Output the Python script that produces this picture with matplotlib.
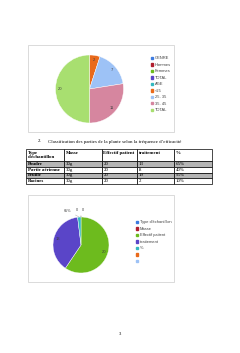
import matplotlib
matplotlib.use('Agg')
import matplotlib.pyplot as plt
from matplotlib.patches import Rectangle, Patch
import numpy as np

W, H = 240, 353

# Excel-like series colours
palette = ['#3d7be0', '#b01e2e', '#6dbb1e', '#5a45c8', '#33b8c0',
           '#e96a1b', '#9dc2f6', '#d6869f', '#a8df70']

# chart 1: age groups
pie1_labels = ['GENRE', 'Hommes', 'Femmes', 'TOTAL', 'AGE',
               '<25', '25- 35', '35- 45', 'TOTAL']
pie1_values = [0, 0, 0, 0, 0, 2, 7, 11, 20]

# table
table_header = ["Type\nd'échantillon", 'Masse\n ', 'Effectif patient\n ',
                'traitement\n ', '%\n ']
table_rows = ['Poudre', 'Partie aérienne', 'Feuille', 'Racines']
masse = ['30g', '30g', '30g', '30g']
effectif = [20, 20, 20, 20]
traitement = [13, 8, 19, 2]
pourcent = ['65%', '40%', '95%', '10%']

# chart 2: first table row plotted as a pie
pie2_labels = ["Type d'échantillon", 'Masse', 'Effectif patient',
               'traitement', '%', '', '']
pie2_values = [0, 0, 20, 13, 0.65]
pie2_texts = ['0', '0', '20', '13', '65%']

fig = plt.figure(figsize=(W / 100, H / 100), dpi=100)
fig.patch.set_facecolor('white')


def px_axes(x0, y0, x1, y1):
    return fig.add_axes([x0 / W, 1 - y1 / H, (x1 - x0) / W, (y1 - y0) / H])


page = px_axes(0, 0, W, H)
page.set_xlim(0, W)
page.set_ylim(H, 0)
page.axis('off')

# chart frames
for y0, y1 in [(45, 132), (195, 282)]:
    page.add_patch(Rectangle((28, y0), 146, y1 - y0, fill=False,
                             edgecolor='#d4d4d4', linewidth=0.6))

serif = 'Liberation Serif'
sans = 'Liberation Sans'


def draw_pie(box, values, colors, texts, min_inside):
    ax = px_axes(*box)
    wedges, _ = ax.pie(values, colors=colors, startangle=90, counterclock=False,
                       wedgeprops=dict(edgecolor='white', linewidth=0.3))
    ax.set_xlim(-1, 1)
    ax.set_ylim(-1, 1)
    angles = []
    for w, v, t in zip(wedges, values, texts):
        ang = np.deg2rad((w.theta1 + w.theta2) / 2)
        if t and v >= min_inside:
            ax.text(0.86 * np.cos(ang), 0.86 * np.sin(ang), t, ha='center',
                    va='center', fontsize=3, color='#404040', family=sans)
        angles.append(ang)
    return ax, wedges, angles


# chart 1
draw_pie((55.5, 55, 123.5, 123), pie1_values, palette,
         [str(v) if v else '' for v in pie1_values], 1)
fig.legend(handles=[Patch(color=c) for c in palette], labels=pie1_labels,
           loc='upper left', bbox_to_anchor=(150.5 / W, 1 - 56.3 / H),
           frameon=False, handlelength=0.5, handleheight=0.5,
           handletextpad=0.5, labelspacing=0.62, borderpad=0, borderaxespad=0,
           labelcolor='#404040', prop={'family': sans, 'size': 2.9})

# heading
page.text(38, 141.5, '2.', fontsize=3.5, family=serif, va='center')
page.text(48, 141.5, "Classification des parties de la plante selon la fréquence d’efficacité",
          fontsize=3.5, family=serif, va='center')

# table
tax = px_axes(26, 149, 212, 184)
tax.axis('off')
cell_text = [table_header] + [[r, m, str(e), str(t), p] for r, m, e, t, p
                              in zip(table_rows, masse, effectif, traitement, pourcent)]
tbl = tax.table(cellText=cell_text, cellLoc='left',
                colWidths=[38, 38, 35, 37, 38], bbox=[0, 0, 1, 1])
tbl.auto_set_font_size(False)
tbl.set_fontsize(3.5)
for (r, c), cell in tbl.get_celld().items():
    cell.set_height(12 if r == 0 else 5.75)
    cell.set_linewidth(0.5)
    cell.set_edgecolor('black')
    cell.set_facecolor('#b5b5b5' if r in (1, 3) else 'white')
    cell.PAD = 0.04
    txt = cell.get_text()
    txt.set_fontfamily(serif)
    if r == 0 or c == 0:
        txt.set_fontweight('bold')

# chart 2
ax2, wedges2, angs2 = draw_pie((53, 217, 109, 273), pie2_values, palette,
                               pie2_texts, 5)
outside_pos = {0: (-0.15, 1.26), 1: (0.08, 1.26), 4: (-0.48, 1.22)}
for i, (tx, ty) in outside_pos.items():
    a = angs2[i]
    ax2.annotate(pie2_texts[i], xy=(np.cos(a), np.sin(a)), xytext=(tx, ty),
                 ha='center', va='center', fontsize=2.7, color='#404040',
                 family=sans, annotation_clip=False,
                 arrowprops=dict(arrowstyle='-', color='#a0a0a0', lw=0.3,
                                 shrinkA=1, shrinkB=0))
fig.legend(handles=[Patch(color=c) for c in palette[:len(pie2_labels)]],
           labels=pie2_labels, loc='upper left',
           bbox_to_anchor=(135.5 / W, 1 - 220.3 / H),
           frameon=False, handlelength=0.5, handleheight=0.5,
           handletextpad=0.5, labelspacing=0.62, borderpad=0, borderaxespad=0,
           labelcolor='#404040', prop={'family': sans, 'size': 2.9})

page.text(120, 334, '3', fontsize=3.4, family=serif, ha='center', va='center')

fig.savefig('out.png', dpi=100, facecolor='white')
